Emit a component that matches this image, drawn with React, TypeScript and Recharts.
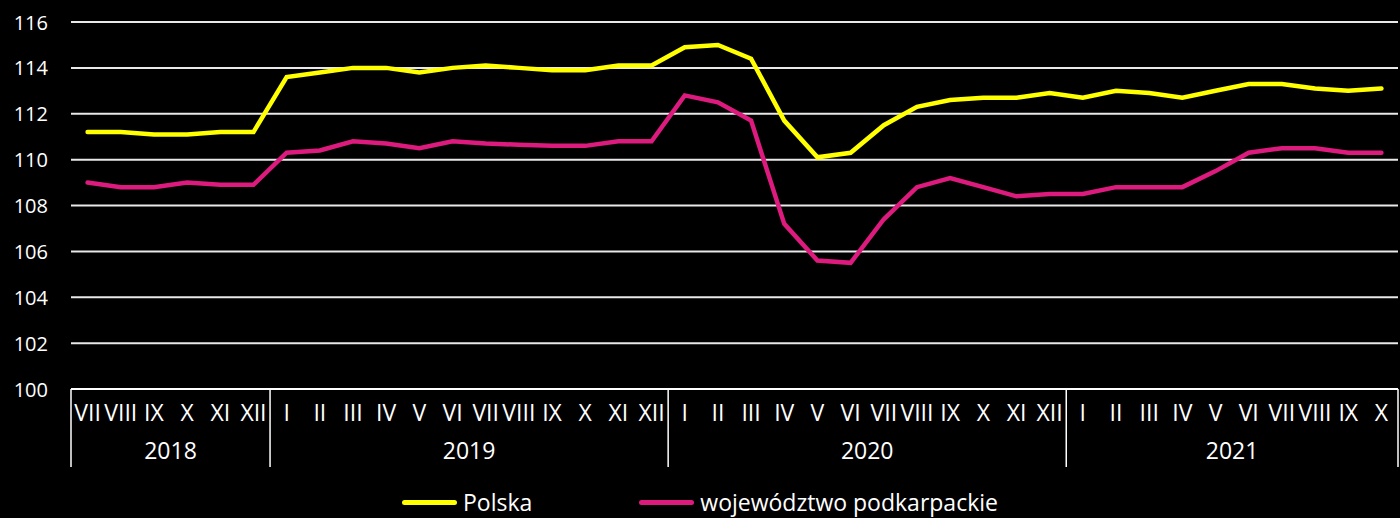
import React from "react";
import { CartesianGrid, Legend, Line, LineChart, XAxis, YAxis } from "recharts";

const months = [
  "VII", "VIII", "IX", "X", "XI", "XII",
  "I", "II", "III", "IV", "V", "VI", "VII", "VIII", "IX", "X", "XI", "XII",
  "I", "II", "III", "IV", "V", "VI", "VII", "VIII", "IX", "X", "XI", "XII",
  "I", "II", "III", "IV", "V", "VI", "VII", "VIII", "IX", "X",
];
const years = [
  "2018", "2018", "2018", "2018", "2018", "2018",
  "2019", "2019", "2019", "2019", "2019", "2019", "2019", "2019", "2019", "2019", "2019", "2019",
  "2020", "2020", "2020", "2020", "2020", "2020", "2020", "2020", "2020", "2020", "2020", "2020",
  "2021", "2021", "2021", "2021", "2021", "2021", "2021", "2021", "2021", "2021",
];
const polska = [
  111.2, 111.2, 111.1, 111.1, 111.2, 111.2,
  113.6, 113.8, 114.0, 114.0, 113.8, 114.0, 114.1, 114.0, 113.9, 113.9, 114.1, 114.1,
  114.9, 115.0, 114.4, 111.7, 110.1, 110.3, 111.5, 112.3, 112.6, 112.7, 112.7, 112.9,
  112.7, 113.0, 112.9, 112.7, 113.0, 113.3, 113.3, 113.1, 113.0, 113.1,
];
const podkarpackie = [
  109.0, 108.8, 108.8, 109.0, 108.9, 108.9,
  110.3, 110.4, 110.8, 110.7, 110.5, 110.8, 110.7, 110.65, 110.6, 110.6, 110.8, 110.8,
  112.8, 112.5, 111.7, 107.2, 105.6, 105.5, 107.4, 108.8, 109.2, 108.8, 108.4, 108.5,
  108.5, 108.8, 108.8, 108.8, 109.5, 110.3, 110.5, 110.5, 110.3, 110.3,
];
const yTicks = [100, 102, 104, 106, 108, 110, 112, 114, 116];

const data = months.map((m, i) => ({
  month: m,
  year: years[i],
  polska: polska[i],
  podkarpackie: podkarpackie[i],
}));

const FONT = "'Open Sans', 'Noto Sans', sans-serif";
const YELLOW = "#ffff00";
const PINK = "#dd1a7e";
const W = 1400;
const H = 518;
const LEFT = 71;
const RIGHT = 2;
const HALF = (W - LEFT - RIGHT) / months.length / 2;

function MonthTick(props: any) {
  const { x, y, payload } = props;
  const i = payload.index;
  const yr = years[i];
  const first = years.indexOf(yr);
  const last = years.lastIndexOf(yr);
  const n = last - first + 1;
  const midIdx = first + Math.ceil(n / 2) - 1;
  const yearX = n % 2 === 0 ? x + HALF : x;
  return (
    <g>
      <text x={x} y={y + 32} textAnchor="middle" fill="#fff" fontSize={23} fontFamily={FONT}>
        {payload.value}
      </text>
      {i === first && (
        <line x1={x - HALF} x2={x - HALF} y1={y} y2={y + 78} stroke="#fff" strokeWidth={1.5} />
      )}
      {i === months.length - 1 && (
        <line x1={x + HALF} x2={x + HALF} y1={y} y2={y + 78} stroke="#fff" strokeWidth={1.5} />
      )}
      {i === midIdx && (
        <text x={yearX} y={y + 70} textAnchor="middle" fill="#fff" fontSize={23} fontFamily={FONT}>
          {yr}
        </text>
      )}
    </g>
  );
}

function YTick(props: any) {
  const { y, payload } = props;
  return (
    <text x={48} y={y + 7.5} textAnchor="end" fill="#fff" fontSize={20} fontFamily={FONT}>
      {payload.value}
    </text>
  );
}

function LegendContent() {
  const items = [
    { label: "Polska", color: YELLOW },
    { label: "województwo podkarpackie", color: PINK },
  ];
  return (
    <div
      style={{
        display: "flex",
        justifyContent: "center",
        gap: 107,
        height: 30,
        fontFamily: FONT,
        fontSize: 23,
        color: "#fff",
        paddingLeft: 2,
      }}
    >
      {items.map((it) => (
        <div key={it.label} style={{ display: "flex", alignItems: "center", gap: 6 }}>
          <span style={{ display: "inline-block", width: 55, height: 5, borderRadius: 3, background: it.color }} />
          <span style={{ lineHeight: "30px" }}>{it.label}</span>
        </div>
      ))}
    </div>
  );
}

export default function App() {
  return (
    <div style={{ width: W, height: H, background: "#000", overflow: "hidden" }}>
      <style>{"body{margin:0;background:#000}"}</style>
      <LineChart width={W} height={H} data={data} margin={{ top: 22, right: RIGHT, bottom: 0, left: 0 }}>
        <CartesianGrid vertical={false} stroke="#e8e8e8" strokeWidth={2} />
        <XAxis
          dataKey="month"
          interval={0}
          height={99}
          padding={{ left: HALF, right: HALF }}
          tickLine={false}
          tickSize={0}
          tickMargin={0}
          axisLine={{ stroke: "#fff", strokeWidth: 2 }}
          tick={<MonthTick />}
        />
        <YAxis
          domain={[100, 116]}
          ticks={yTicks}
          width={LEFT}
          axisLine={false}
          tickLine={false}
          tick={<YTick />}
        />
        <Legend verticalAlign="bottom" wrapperStyle={{ bottom: 1 }} content={<LegendContent />} />
        <Line
          type="linear"
          dataKey="polska"
          stroke={YELLOW}
          strokeWidth={4.5}
          strokeLinecap="round"
          dot={false}
          isAnimationActive={false}
        />
        <Line
          type="linear"
          dataKey="podkarpackie"
          stroke={PINK}
          strokeWidth={4.5}
          strokeLinecap="round"
          dot={false}
          isAnimationActive={false}
        />
      </LineChart>
    </div>
  );
}
